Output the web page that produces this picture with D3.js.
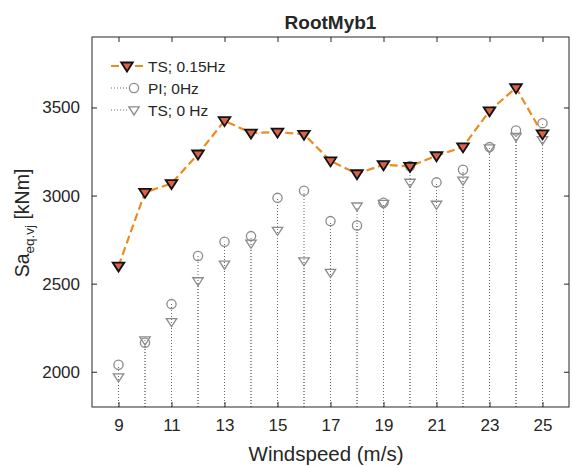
<!DOCTYPE html>
<html>
<head>
<meta charset="utf-8">
<script src="https://cdn.jsdelivr.net/npm/d3@7"></script>
<style>
  html, body { margin: 0; padding: 0; background: #fff; }
  text { font-family: "Liberation Sans", Arial, Helvetica, sans-serif; fill: #262626; }
</style>
</head>
<body>
<svg id="chart" width="573" height="466"></svg>
<script>
// ---- data ----
const windspeed = [9, 10, 11, 12, 13, 14, 15, 16, 17, 18, 19, 20, 21, 22, 23, 24, 25];
const ts015 = [2600, 3018, 3068, 3236, 3425, 3355, 3360, 3348, 3197, 3124, 3175, 3166, 3226, 3276, 3481, 3612, 3350];
const pi0   = [2040, 2165, 2384, 2657, 2738, 2770, 2987, 3028, 2855, 2830, 2959, 3168, 3075, 3147, 3275, 3369, 3411];
const ts0   = [1970, 2180, 2284, 2516, 2610, 2729, 2802, 2629, 2563, 2940, 2955, 3075, 2950, 3087, 3270, 3335, 3317];
const xTicks = [9, 11, 13, 15, 17, 19, 21, 23, 25];
const yTicks = [2000, 2500, 3000, 3500];
const seriesNames = ["TS; 0.15Hz", "PI; 0Hz", "TS; 0 Hz"];

// ---- layout ----
const L = 92, R = 569, T = 37, B = 407;
const svg = d3.select("#chart");
const x = d3.scaleLinear().domain([8, 26]).range([L, R]);
const y = d3.scaleLinear().domain([1800, 3900]).range([B, T]);

const orange = "#EC8B1F", fillRed = "#D9634A", gray = "#8a8a8a", stemCol = "#6a6a6a";

// stems (drawn first)
const stemG = svg.append("g");
[pi0, ts0].forEach(vals => {
  stemG.selectAll(null).data(windspeed.map((w, i) => [w, vals[i]])).enter()
    .append("line")
    .attr("x1", d => x(d[0])).attr("x2", d => x(d[0]))
    .attr("y1", y(1800)).attr("y2", d => y(d[1]))
    .attr("stroke", stemCol).attr("stroke-width", 1).attr("stroke-dasharray", "1,2");
});

// gray markers
const triPath = (cx, cy, s) => `M${cx - s},${cy - s * 0.6}L${cx + s},${cy - s * 0.6}L${cx},${cy + s * 0.95}Z`;
svg.append("g").selectAll("circle").data(windspeed.map((w, i) => [w, pi0[i]])).enter()
  .append("circle").attr("cx", d => x(d[0])).attr("cy", d => y(d[1])).attr("r", 4.6)
  .attr("fill", "none").attr("stroke", gray).attr("stroke-width", 1.3);
svg.append("g").selectAll("path").data(windspeed.map((w, i) => [w, ts0[i]])).enter()
  .append("path").attr("d", d => triPath(x(d[0]), y(d[1]), 5.2))
  .attr("fill", "none").attr("stroke", gray).attr("stroke-width", 1.3);

// orange line
const line = d3.line().x(d => x(d[0])).y(d => y(d[1]));
const tsData = windspeed.map((w, i) => [w, ts015[i]]);
svg.append("path").datum(tsData).attr("d", line)
  .attr("fill", "none").attr("stroke", orange).attr("stroke-width", 2.2)
  .attr("stroke-dasharray", "8,4");
svg.append("g").selectAll("path").data(tsData).enter()
  .append("path").attr("d", d => triPath(x(d[0]), y(d[1]), 5.8))
  .attr("fill", fillRed).attr("stroke", "#111").attr("stroke-width", 1.8)
  .attr("stroke-linejoin", "miter");

// axes box
const axCol = "#262626";
svg.append("rect").attr("x", L).attr("y", T).attr("width", R - L).attr("height", B - T)
  .attr("fill", "none").attr("stroke", axCol).attr("stroke-width", 1);

const fmt = d3.format("d");
const axB = d3.axisBottom(x).tickValues(xTicks).tickFormat(fmt).tickSizeInner(-5).tickSizeOuter(0).tickPadding(12);
const gB = svg.append("g").attr("transform", `translate(0,${B})`).call(axB);
const axTop = d3.axisTop(x).tickValues(xTicks).tickSizeInner(-5).tickSizeOuter(0).tickFormat("");
const gT = svg.append("g").attr("transform", `translate(0,${T})`).call(axTop);
const axLft = d3.axisLeft(y).tickValues(yTicks).tickFormat(fmt).tickSizeInner(-5).tickSizeOuter(0).tickPadding(12);
const gL = svg.append("g").attr("transform", `translate(${L},0)`).call(axLft);
const axRt = d3.axisRight(y).tickValues(yTicks).tickSizeInner(-5).tickSizeOuter(0).tickFormat("");
const gR = svg.append("g").attr("transform", `translate(${R},0)`).call(axRt);
[gB, gT, gL, gR].forEach(g => {
  g.select(".domain").remove();
  g.selectAll(".tick line").attr("stroke", axCol);
  g.selectAll("text").attr("font-size", 17).attr("fill", "#262626")
    .attr("font-family", "'Liberation Sans', Arial, sans-serif");
});

// title
svg.append("text").attr("x", (L + R) / 2).attr("y", 29).attr("text-anchor", "middle")
  .attr("font-size", 19).attr("font-weight", "bold").attr("fill", "#000").text("RootMyb1");

// x label
svg.append("text").attr("x", 326).attr("y", 461).attr("text-anchor", "middle")
  .attr("font-size", 20.5).text("Windspeed (m/s)");

// y label
const yl = svg.append("text").attr("transform", `translate(29,223) rotate(-90)`)
  .attr("text-anchor", "middle").attr("font-size", 19.5);
yl.append("tspan").text("Sa");
yl.append("tspan").attr("font-size", 13.5).attr("dy", 5).text("eq.vj");
yl.append("tspan").attr("dy", -5).text(" [kNm]");

// legend
const lg = svg.append("g");
const rows = [66, 88, 110];
// row 1
lg.append("line").attr("x1", 111).attr("x2", 143).attr("y1", rows[0]).attr("y2", rows[0])
  .attr("stroke", orange).attr("stroke-width", 2.2).attr("stroke-dasharray", "8,4");
lg.append("path").attr("d", triPath(127, rows[0], 5.8)).attr("fill", fillRed)
  .attr("stroke", "#111").attr("stroke-width", 1.8);
// row 2
lg.append("line").attr("x1", 111).attr("x2", 129).attr("y1", rows[1]).attr("y2", rows[1])
  .attr("stroke", stemCol).attr("stroke-width", 1).attr("stroke-dasharray", "1,2");
lg.append("circle").attr("cx", 134).attr("cy", rows[1]).attr("r", 4.6)
  .attr("fill", "none").attr("stroke", gray).attr("stroke-width", 1.3);
// row 3
lg.append("line").attr("x1", 111).attr("x2", 128).attr("y1", rows[2]).attr("y2", rows[2])
  .attr("stroke", stemCol).attr("stroke-width", 1).attr("stroke-dasharray", "1,2");
lg.append("path").attr("d", triPath(134, rows[2], 5.2))
  .attr("fill", "none").attr("stroke", gray).attr("stroke-width", 1.3);
rows.forEach((ry, i) => {
  lg.append("text").attr("x", 148).attr("y", ry).attr("dy", "0.36em")
    .attr("font-size", 15.5).text(seriesNames[i]);
});
</script>
</body>
</html>
